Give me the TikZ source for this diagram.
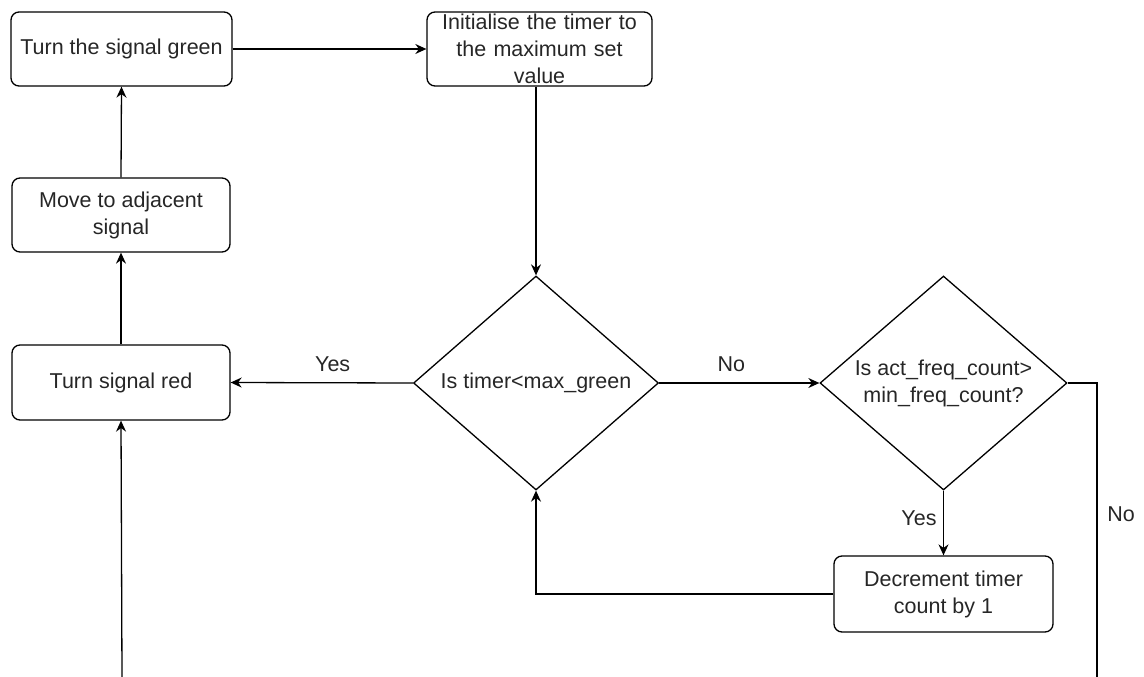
\documentclass[tikz,border=0pt]{standalone}
\usepackage{fontspec}
\setmainfont{Liberation Sans}
\usetikzlibrary{shapes.geometric,arrows.meta}
\begin{document}
\begin{tikzpicture}[x=1pt,y=-1pt,
  txt/.style={font=\fontsize{21.5}{27}\selectfont, text=black!85},
  box/.style={draw, line width=1.3pt, rounded corners=8pt, align=center, inner sep=0pt, txt},
  dec/.style={draw, line width=1.3pt, diamond, aspect=1.145, inner sep=0pt, align=center, txt},
  conn/.style={line width=1.3pt, -{Stealth[length=11pt,width=10pt]}},
  plain/.style={line width=1.3pt},
  lab/.style={txt}]
\useasboundingbox (0,0) rectangle (1144,677);
\node[box, minimum width=221pt, minimum height=74pt] (green) at (121.5,49) {Turn the signal green};
\node[box, minimum width=225pt, minimum height=74pt, text width=215pt] (init) at (539.5,49) {Initialise the timer to\\the maximum set\\value};
\node[box, minimum width=218pt, minimum height=74pt] (move) at (121,215) {Move to adjacent\\signal};
\node[box, minimum width=218pt, minimum height=75pt] (red) at (121,382.5) {Turn signal red};
\node[dec, minimum width=245pt, minimum height=214pt] (d1) at (536,383) {Is timer<max\_green};
\node[dec, minimum width=247pt, minimum height=214pt] (d2) at (943.5,383) {Is act\_freq\_count>\\min\_freq\_count?};
\node[box, minimum width=219pt, minimum height=76pt] (decr) at (943.5,594) {Decrement timer\\count by 1};
\coordinate (bl) at (122,677);
\coordinate (br) at (1097,677);
\draw[conn] (green.east) -- (init.west);
\draw[conn] (init.south -| d1.north) -- (d1.north);
\draw[conn] (move.north) -- (green.south);
\draw[conn] (red.north) -- (move.south);
\draw[conn] (d1.west) -- node[lab, pos=0.44, above=7pt] {Yes} (red.east);
\draw[conn] (d1.east) -- node[lab, pos=0.45, above=7pt] {No} (d2.west);
\draw[conn] (d2.south) -- node[lab, pos=0.42, left=3pt] {Yes} (decr.north);
\draw[conn] (decr.west) -| (d1.south);
\draw[conn] (bl) -- (red.south);
\draw[plain] (d2.east) -| (br);
\node[lab] (nolab) at (1121,514) {No};
\end{tikzpicture}
\end{document}
